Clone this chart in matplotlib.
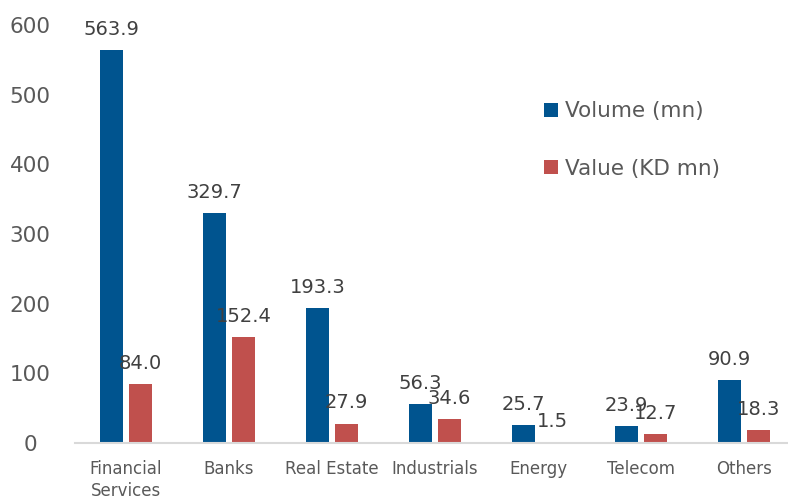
import matplotlib
matplotlib.use("Agg")
import matplotlib.pyplot as plt
import matplotlib.transforms as mtrans
import numpy as np

categories = ["Financial\nServices", "Banks", "Real Estate", "Industrials", "Energy", "Telecom", "Others"]
volume = [563.9, 329.7, 193.3, 56.3, 25.7, 23.9, 90.9]
value = [84.0, 152.4, 27.9, 34.6, 1.5, 12.7, 18.3]
series_names = ["Volume (mn)", "Value (KD mn)"]

blue = "#00548F"
red = "#C0504D"
txt = "#404040"

plt.rcParams['font.family'] = ['DejaVu Sans']
fig = plt.figure(figsize=(7.88, 4.96), dpi=100)
ax = fig.add_axes([74.5/788, 1-443/496, 1-74.5/788, (443-25)/496])

x = np.arange(len(categories))
w = 0.22
off = 0.142
b1 = ax.bar(x - off, volume, w, color=blue, label=series_names[0])
b2 = ax.bar(x + off, value, w, color=red, label=series_names[1])

for bars, vals in ((b1, volume), (b2, value)):
    for r, v in zip(bars, vals):
        ax.annotate(f"{v:.1f}", (r.get_x() + r.get_width()/2, v), xytext=(0, 8),
                    textcoords="offset points", ha="center", va="bottom",
                    fontsize=14, color=txt)

ax.set_xlim(-0.5, -0.5 + (788 - 74.5) / 103)
ax.set_ylim(0, 600)
ax.set_yticks([0, 100, 200, 300, 400, 500, 600])
ax.set_xticks(x)
ax.set_xticklabels(categories, fontsize=12, color="#595959", linespacing=1.3)
ax.tick_params(axis='y', labelsize=15.5, colors="#595959", length=0, pad=0)
ax.tick_params(axis='x', length=0, pad=12)
for s in ["top", "right", "left"]:
    ax.spines[s].set_visible(False)
ax.spines["bottom"].set_color("#D9D9D9")
ax.spines["bottom"].set_linewidth(1.5)
for lab in ax.get_yticklabels():
    lab.set_horizontalalignment("center")
    lab.set_transform(lab.get_transform() + mtrans.ScaledTranslation(-44.5/100, 0, fig.dpi_scale_trans))

leg = ax.legend(loc="upper left", frameon=False, fontsize=15.5,
                handlelength=0.65, handleheight=0.65, handletextpad=0.3, labelspacing=1.74,
                labelcolor="#595959")
leg.set_bbox_to_anchor((525/788, (496-82)/496), transform=fig.transFigure)

fig.savefig("out.png", dpi=100)
